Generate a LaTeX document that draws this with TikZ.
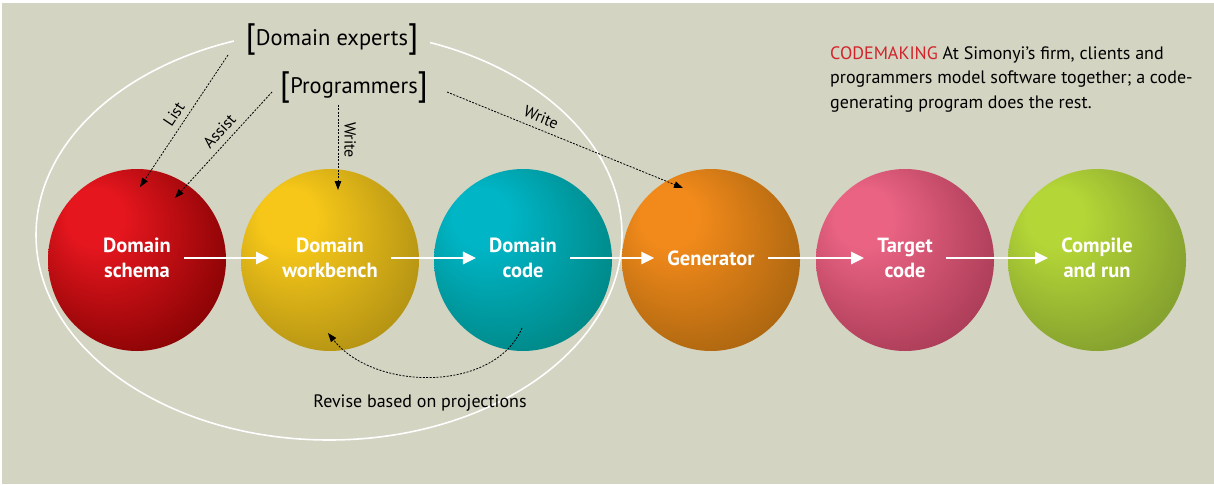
\documentclass[tikz,border=0pt]{standalone}
\usepackage{fontspec}
\setmainfont{PT Sans}
\usetikzlibrary{arrows.meta, shapes.geometric, calc}
\definecolor{bgtan}{HTML}{D3D4C2}
\definecolor{cnote}{HTML}{D2232A}
\definecolor{redlit}{HTML}{E5161E}
\definecolor{reddark}{HTML}{7A0000}
\definecolor{yellit}{HTML}{F6C719}
\definecolor{yeldark}{HTML}{A88A13}
\definecolor{teallit}{HTML}{00B5C6}
\definecolor{tealdark}{HTML}{00807C}
\definecolor{orglit}{HTML}{F28A1B}
\definecolor{orgdark}{HTML}{A0600E}
\definecolor{pinklit}{HTML}{EA6383}
\definecolor{pinkdark}{HTML}{A03650}
\definecolor{grnlit}{HTML}{B5D637}
\definecolor{grndark}{HTML}{7B962D}
\colorlet{sphlit}{red}
\colorlet{sphdark}{black}
\pgfdeclareradialshading[sphlit,sphdark]{sphere}{\pgfpoint{-14bp}{14bp}}{%
  color(0bp)=(sphlit); color(8bp)=(sphlit); color(37bp)=(sphdark); color(50bp)=(sphdark)}
\newcommand{\brk}[1]{{\fontsize{34}{34}\selectfont\raisebox{-2pt}{#1}}}
\tikzset{
  every picture/.style={font=\fontsize{18}{22}\selectfont},
  sphcol/.code 2 args={\colorlet{sphlit}{#1}\colorlet{sphdark}{#2}},
  orb/.style 2 args={ellipse, minimum width=178pt, minimum height=182pt, inner sep=0pt, sphcol={#1}{#2}, shading=sphere},
  orblabel/.style={text=white, align=center, font=\bfseries\fontsize{20.5}{25}\selectfont, inner xsep=13pt, inner ysep=2pt},
  flow/.style={-{Triangle[length=13pt,width=12pt]}, draw=white, line width=2.6pt},
  role/.style={fill=bgtan, font=\fontsize{22.5}{26}\selectfont, inner xsep=12pt, inner ysep=0pt},
  task/.style={-{Triangle[length=9pt,width=6.5pt]}, line width=0.8pt, dash pattern=on 2pt off 1.4pt},
  tasklabel/.style={font=\fontsize{16}{18}\selectfont, inner sep=6pt},
}

\begin{document}
\begin{tikzpicture}[x=1pt, y=-1pt]
  \useasboundingbox (0,0) rectangle (1214,484);
  \fill[white] (0,0) rectangle (1214,484);
  \fill[bgtan] (2,3) rectangle (1214,484);

  % group of people around the domain tools
  \node[draw=white, line width=1.6pt, ellipse, minimum width=586pt, minimum height=410pt] (team) at (329,235) {};

  % the chain of spheres
  \node[orb={redlit}{reddark}] (schema) at (137,260) {};
  \node[orb={yellit}{yeldark}] (workbench) at (330,260) {};
  \node[orb={teallit}{tealdark}] (code) at (523,260) {};
  \node[orb={orglit}{orgdark}] (generator) at (711,260) {};
  \node[orb={pinklit}{pinkdark}] (target) at (905,260) {};
  \node[orb={grnlit}{grndark}] (compile) at (1097,260) {};

  \node[orblabel] (schemaLbl) at (137,258) {Domain\\schema};
  \node[orblabel] (workbenchLbl) at (330,258) {Domain\\workbench};
  \node[orblabel] (codeLbl) at (523,258) {Domain\\code};
  \node[orblabel] (generatorLbl) at (711,258) {Generator};
  \node[orblabel] (targetLbl) at (905,258) {Target\\code};
  \node[orblabel] (compileLbl) at (1097,258) {Compile\\and run};

  \draw[flow] (schemaLbl) -- (workbenchLbl);
  \draw[flow] (workbenchLbl) -- (codeLbl);
  \draw[flow] (codeLbl) -- (generatorLbl);
  \draw[flow] (generatorLbl) -- (targetLbl);
  \draw[flow] (targetLbl) -- (compileLbl);

  % who does what
  \node[role] (experts) at (332,40) {\brk{[}Domain experts\brk{]}};
  \node[role, fill=none] (programmers) at (354,88) {\brk{[}Programmers\brk{]}};

  \draw[task] ($(experts.center)+(-104,15)$) -- node[tasklabel, sloped, above, pos=.5] {List} ($(schema.center)+(3,-73)$);
  \draw[task] ($(programmers.center)+(-82,4)$) -- node[tasklabel, sloped, above, pos=.45] {Assist} ($(schema.center)+(38,-62)$);
  \draw[task] ($(programmers.center)+(-16,17)$) -- node[tasklabel, sloped, above, pos=.41] {Write} ($(workbench.center)+(8,-70)$);
  \draw[task] ($(programmers.center)+(93,4)$) -- node[tasklabel, sloped, above, pos=.38] {Write} ($(generator.center)+(-28,-72)$);
  \draw[task] ($(code.center)+(-1,68)$) .. controls (495,392) and (375,392) .. ($(workbench.center)+(-2,73)$);
  \node (revise) at (420,403) {Revise based on projections};

  % caption
  \node[anchor=north west, align=left, inner sep=0pt, font=\fontsize{18}{24.5}\selectfont] (caption) at (830,46)
    {\textcolor{cnote}{CODEMAKING} At Simonyi's firm, clients and\\
     programmers model software together; a code-\\
     generating program does the rest.};
\end{tikzpicture}
\end{document}
